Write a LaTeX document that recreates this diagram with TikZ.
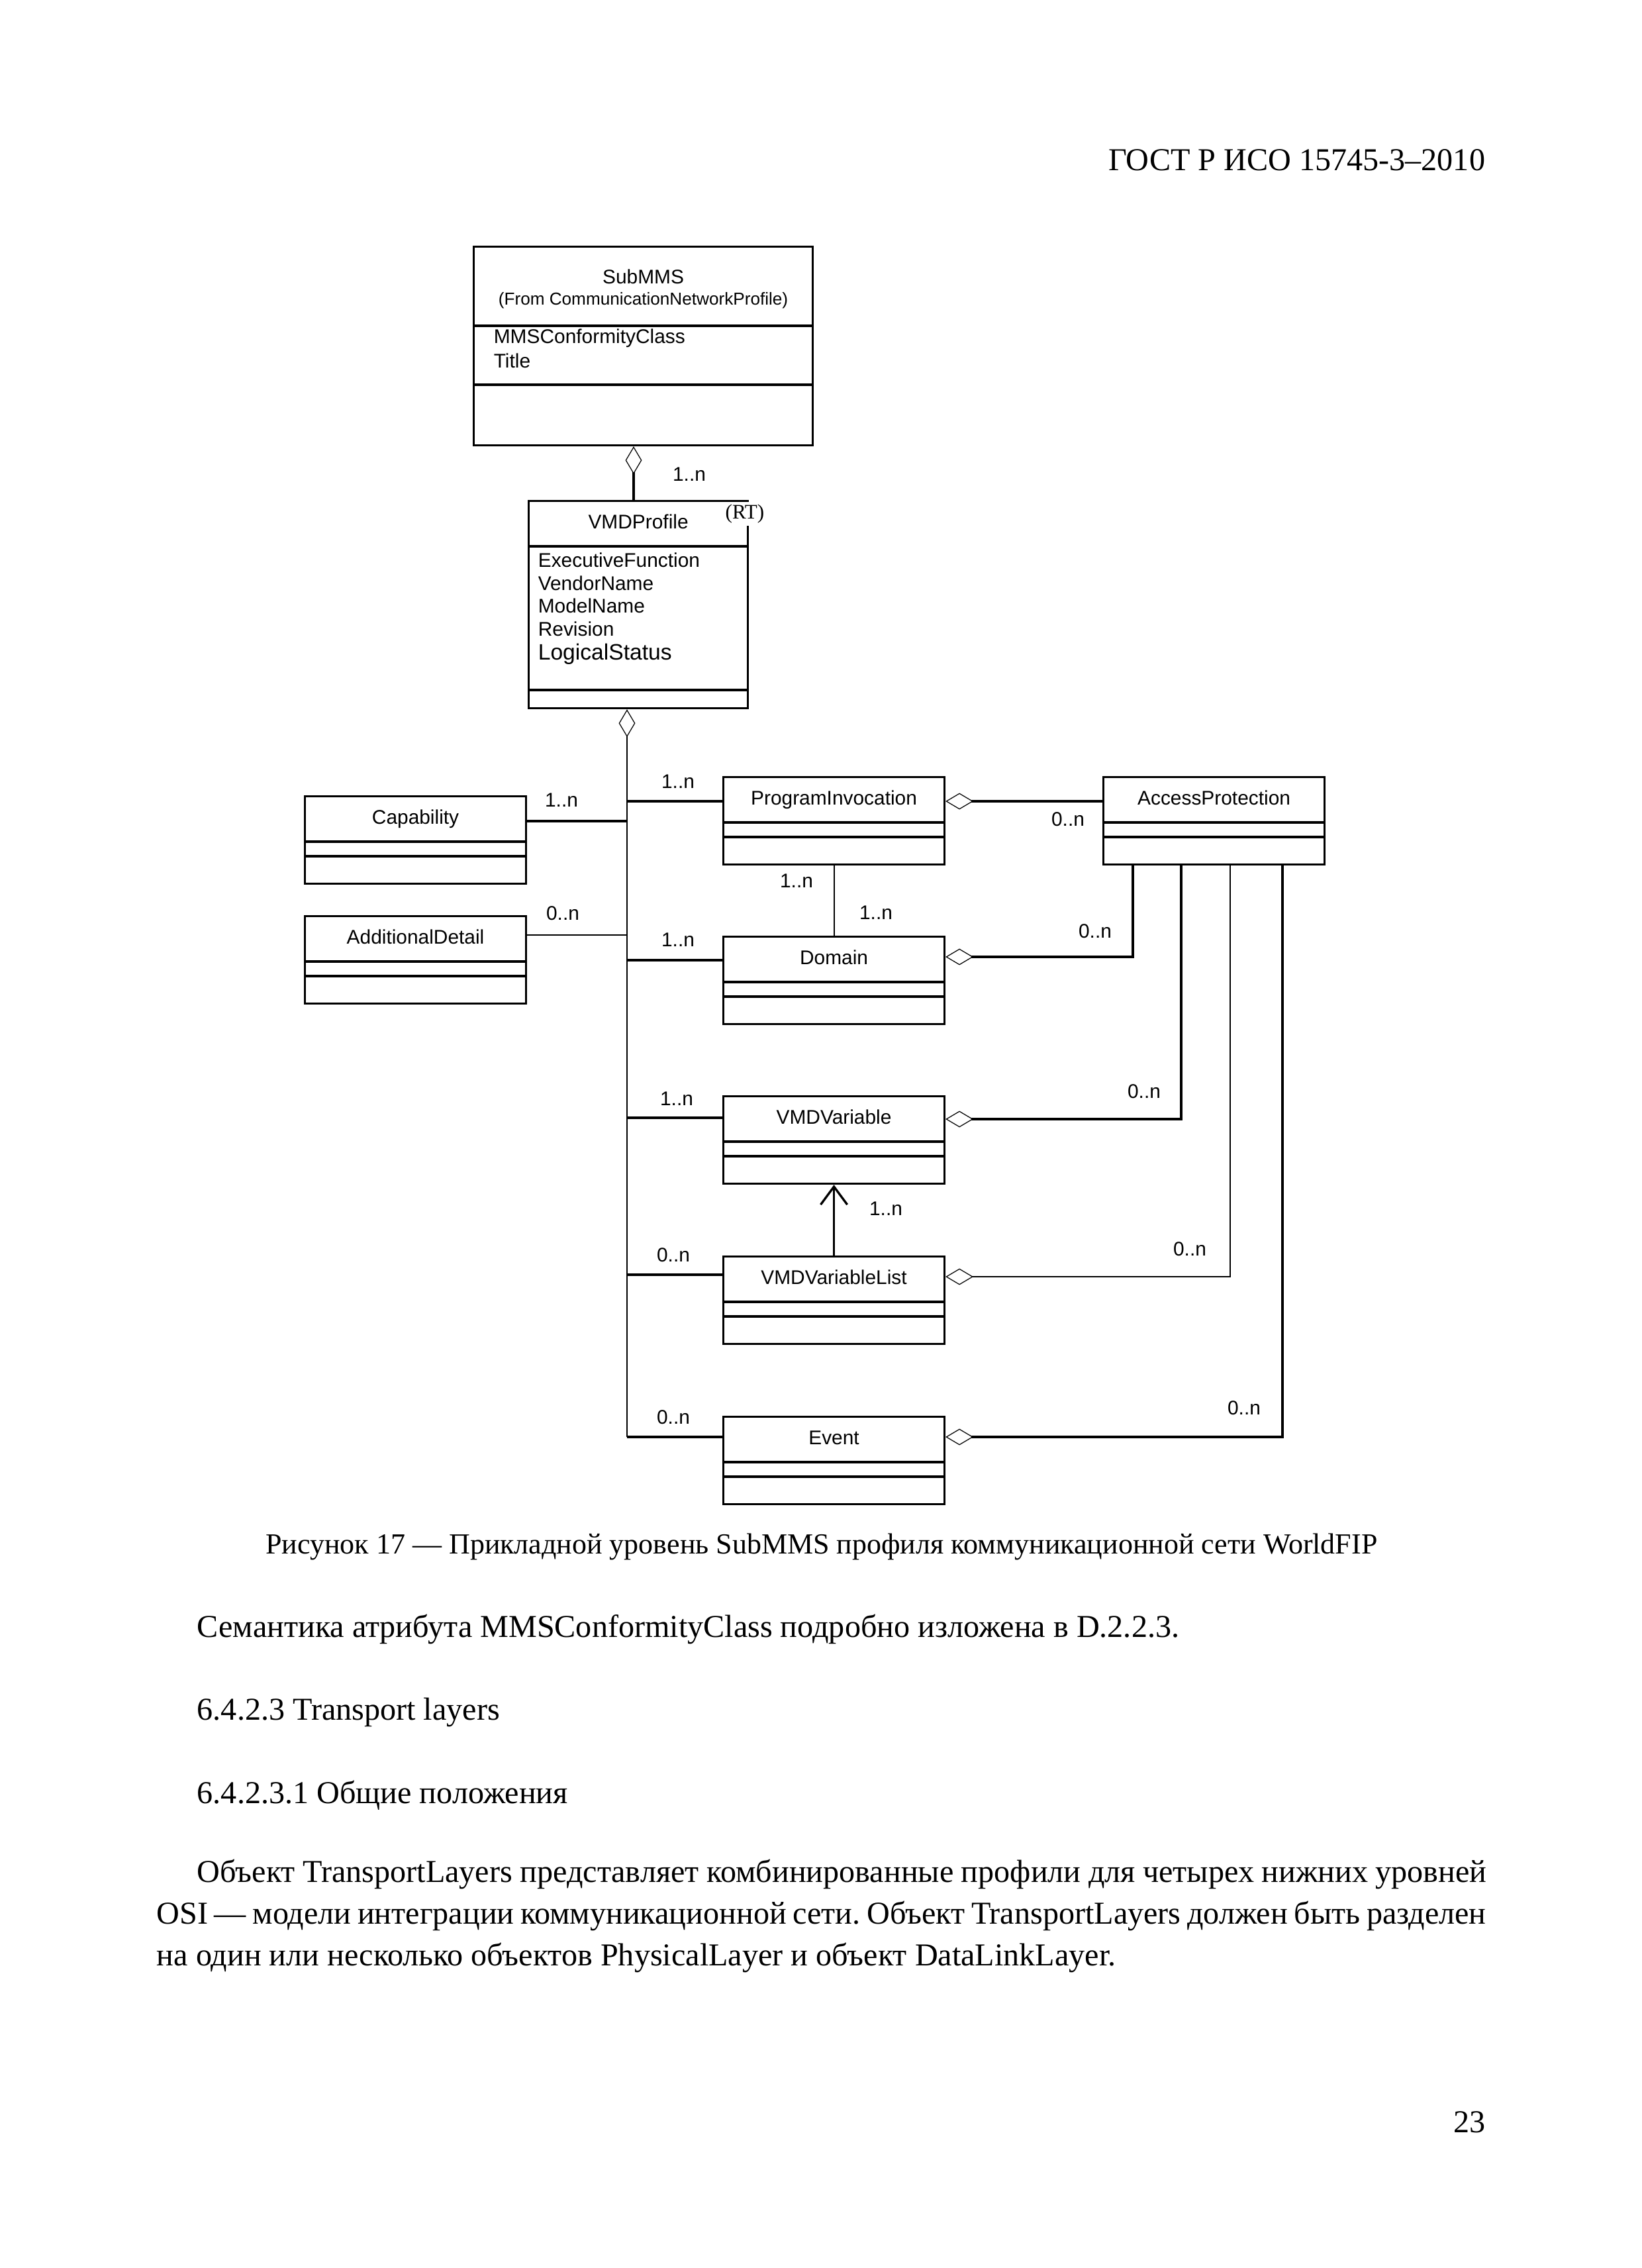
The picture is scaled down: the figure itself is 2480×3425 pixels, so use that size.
\documentclass[tikz,border=0pt]{standalone}
\usepackage{fontspec}
\setmainfont{Liberation Serif}
\newfontfamily\umlsans{Liberation Sans}
\usetikzlibrary{arrows.meta,calc}
\frenchspacing
\tikzset{classbox/.style={draw,line width=.75pt,inner sep=0pt,anchor=north west,align=center,text width=28.28mm,text height=3.56mm,text depth=7.62mm,font=\umlsans\fontsize{7.2}{8.4}\selectfont},compartment/.style={line width=.75pt},attribute/.style={anchor=west,inner sep=0pt,font=\umlsans\fontsize{7.2}{8.4}\selectfont},multiplicity/.style={inner sep=0pt,font=\umlsans\fontsize{7.2}{8.4}\selectfont},aggregation/.style={{Diamond[open,length=3.55mm,width=2.1mm,line width=.3pt]}-},association/.style={line width=.8pt},bus/.style={line width=.5pt},pagetext/.style={inner sep=0pt,font=\fontsize{11.6}{15.3}\selectfont}}
\begin{document}
\begin{tikzpicture}[x={(0.084677mm,0)},y={(0,-0.084677mm)}]
\useasboundingbox (0,0) rectangle (2480,3425);
\node[pagetext,anchor=base east] (gost) at (2244,257) {ГОСТ Р ИСО 15745-3–2010};
\node[classbox,text width=43.35mm,text height=4.74mm,text depth=20.66mm] (submms) at (714,371) {SubMMS};
\node[multiplicity,font=\umlsans\fontsize{6.3}{7}\selectfont] (submmsfrom) at ($(submms.north)+(0,83)$) {(From CommunicationNetworkProfile)};
\foreach \a [count=\i] in {MMSConformityClass,Title}{\node[attribute] (submmsattr\i) at ($(submms.north west)+(31,106+34*\i)$) {\a};}
\foreach \d in {121,210}{\draw[compartment] ($(submms.north west)+(0,\d)$)--($(submms.north east)+(0,\d)$);}
\node[classbox,text width=28.03mm,text depth=22.95mm] (vmd) at (797,755) {VMDProfile};
\node[fill=white,inner sep=1pt,font=\fontsize{7.5}{8}\selectfont] (rt) at (1125,776) {(RT)};
\foreach \a [count=\i] in {ExecutiveFunction,VendorName,ModelName,Revision}{\node[attribute] (vmdattr\i) at ($(vmd.north west)+(15,56.5+34.5*\i)$) {\a};}
\node[attribute,font=\umlsans\fontsize{8.1}{9}\selectfont] (vmdattr5) at ($(vmd.north west)+(15,233)$) {LogicalStatus};
\foreach \d in {70,287}{\draw[compartment] ($(vmd.north west)+(0,\d)$)--($(vmd.north east)+(0,\d)$);}
\node[classbox] (cap) at (459,1201) {Capability};
\node[classbox] (add) at (459,1382) {AdditionalDetail};
\node[classbox] (pi) at (1091,1172) {ProgramInvocation};
\node[classbox] (ap) at (1665,1172) {AccessProtection};
\node[classbox] (dom) at (1091,1413) {Domain};
\node[classbox] (var) at (1091,1654) {VMDVariable};
\node[classbox] (vlist) at (1091,1896) {VMDVariableList};
\node[classbox] (ev) at (1091,2138) {Event};
\foreach \c in {cap,add,pi,ap,dom,var,vlist,ev}{\foreach \d in {70,92}{\draw[compartment] ($(\c.north west)+(0,\d)$)--($(\c.north east)+(0,\d)$);}}
\coordinate (aggtop) at ($(submms.south west)+(243,0)$);
\draw[association,aggregation] (aggtop)--(aggtop |- vmd.north);
\coordinate (bustop) at ($(vmd.south west)+(150,0)$);
\foreach \c/\d in {pi/38,dom/37,var/34,vlist/29,ev/32}{\coordinate (link\c) at ($(\c.north west)+(0,\d)$);\draw[association] (bustop |- link\c)--(link\c);}
\coordinate (linkcap) at ($(cap.north east)+(0,39)$);
\coordinate (linkadd) at ($(add.north east)+(0,30)$);
\draw[association] (linkcap)--(bustop |- linkcap);
\draw[bus] (linkadd)--(bustop |- linkadd);
\draw[bus,aggregation] (bustop)--(bustop |- linkev);
\coordinate (appi) at ($(pi.north east)+(0,38)$);
\draw[association,aggregation] (appi)--(ap.west |- appi);
\foreach \c/\d/\x/\w in {dom/32/46/.75pt,var/36/119/.75pt,vlist/32/193/.5pt,ev/32/272/.75pt}{\coordinate (ap\c) at ($(\c.north east)+(0,\d)$);\coordinate (apfoot\c) at ($(ap.south west)+(\x,0)$);\draw[aggregation,line width=\w] (ap\c) -| (apfoot\c);}
\draw[bus] (pi.south)--(dom.north);
\draw[association,-{Straight Barb[length=2.3mm,width=3.4mm]}] (vlist.north)--(var.south);
\foreach \n/\t/\p in {msub/1..n/{1041,716},mcap/1..n/{848,1208},mpi/1..n/{1024,1180},mpiap/0..n/{1613,1237},madd/0..n/{850,1379},mdom/1..n/{1024,1419},mpidomA/1..n/{1203,1330},mpidomB/1..n/{1323,1378},mdomap/0..n/{1654,1406},mvar/1..n/{1022,1659},mvarap/0..n/{1728,1648},mvlist/0..n/{1017,1895},mvlistap/0..n/{1797,1886},mlistvar/1..n/{1338,1825},mev/0..n/{1017,2140},mevap/0..n/{1879,2126}}{\node[multiplicity] (\n) at (\p) {\t};}
\node[pagetext,anchor=base,font=\fontsize{10.6}{14}\selectfont] (caption) at (1241,2346) {Рисунок 17 — Прикладной уровень SubMMS профиля коммуникационной сети WorldFIP};
\node[pagetext,anchor=base west] (semantics) at (297,2472) {Семантика атрибута MMSConformityClass подробно изложена в D.2.2.3.};
\node[pagetext,anchor=base west] (sect) at (297,2597) {6.4.2.3 Transport layers};
\node[pagetext,anchor=base west] (subsect) at (297,2723) {6.4.2.3.1 Общие положения};
\node[pagetext,anchor=base west] (parA) at (297,2842) {\makebox[164.9mm][s]{Объект TransportLayers представляет комбинированные профили для четырех нижних уровней}};
\node[pagetext,anchor=base west] (parB) at (236,2905) {\makebox[170.0mm][s]{OSI — модели интеграции коммуникационной сети. Объект TransportLayers должен быть разделен}};
\node[pagetext,anchor=base west] (parC) at (236,2968) {на один или несколько объектов PhysicalLayer и объект DataLinkLayer.};
\node[pagetext,anchor=base east] (pageno) at (2244,3220) {23};
\end{tikzpicture}
\end{document}
